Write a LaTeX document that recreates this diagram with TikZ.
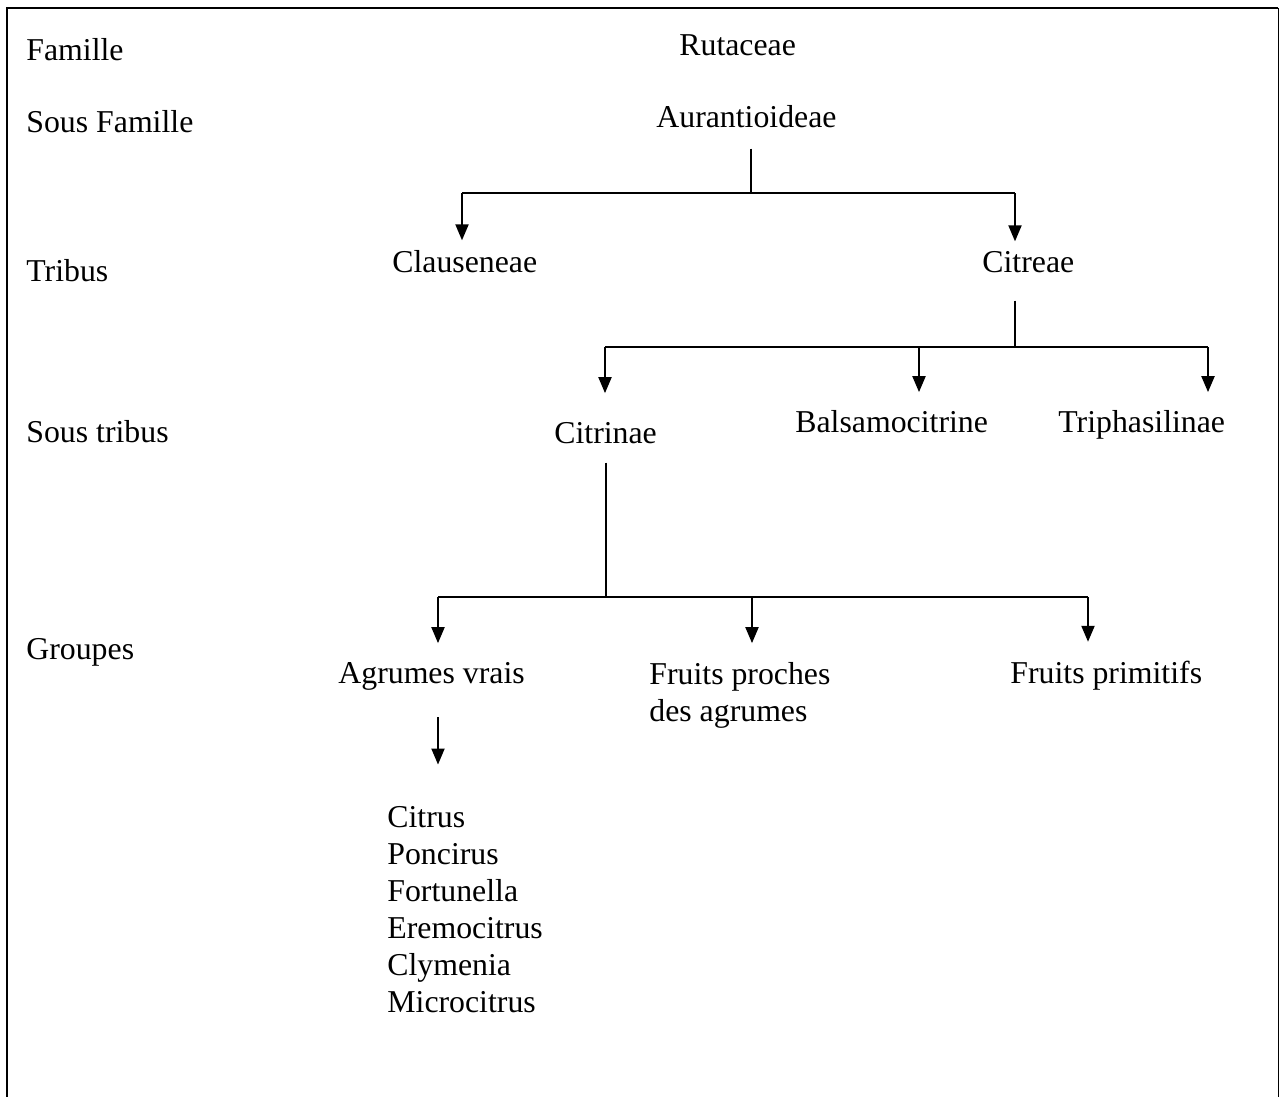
\documentclass[tikz,border=0pt]{standalone}
\usepackage{fontspec}
\setmainfont{Liberation Serif}
\usetikzlibrary{arrows.meta, positioning, calc}

\begin{document}
\begin{tikzpicture}[
  x=0.5pt, y=-0.5pt,
  taxon/.style={anchor=base west, inner sep=0pt, font=\fontsize{15.9}{18.5}\selectfont},
  rank/.style={taxon},
  stem/.style={line width=0.6pt},
  bar/.style={line width=1pt},
  down/.style={line width=1pt, -{Triangle[length=8pt, width=6.5pt]}}
]
\useasboundingbox (0,0) rectangle (1279,1097);
% cadre, ouvert en bas
\draw[line width=1pt] (7,1097) -- (7,8) -- (1278,8);
\draw[line width=0.5pt] (1278,8) -- (1278,1097);

% rangs
\node[rank] (famille) at (26,61) {Famille};
\node[rank] (sousfamille) at (26,133) {Sous Famille};
\node[rank] (tribus) at (26,281) {Tribus};
\node[rank] (soustribus) at (26,442) {Sous tribus};
\node[rank] (groupes) at (26,659) {Groupes};

% taxons (multi-lignes : base = derniere ligne)
\node[taxon] (ruta) at (679,56) {Rutaceae};
\node[taxon] (aur) at (656,127) {Aurantioideae};
\node[taxon] (clau) at (392,272) {Clauseneae};
\node[taxon] (citreae) at (982,272) {Citreae};
\node[taxon] (citrinae) at (554,443) {Citrinae};
\node[taxon] (balsa) at (795,432) {Balsamocitrine};
\node[taxon] (tripha) at (1058,432) {Triphasilinae};
\node[taxon] (agr) at (338,683) {Agrumes vrais};
\node[taxon, align=left] (proches) at (649,721) {Fruits proches\\des agrumes};
\node[taxon] (prim) at (1010,683) {Fruits primitifs};
\node[taxon, align=left] (genres) at (387,1012) {Citrus\\Poncirus\\Fortunella\\Eremocitrus\\Clymenia\\Microcitrus};

% points de branchement
\coordinate (fork1) at (751,193);
\coordinate (d1) at (462,193);
\coordinate (d2) at (1015,193);
\coordinate (fork2) at (1015,347);
\coordinate (d3) at (605,347);
\coordinate (d4) at (919,347);
\coordinate (d5) at (1208,347);
\coordinate (fork3) at (606,597);
\coordinate (d6) at (438,597);
\coordinate (d7) at (752,597);
\coordinate (d8) at (1088,597);

% Aurantioideae -> tribus
\draw[stem, shorten <=10.5pt] (aur.south -| fork1) -- (fork1);
\draw[bar] (d1) -- (d2);
\draw[down, shorten >=4.6pt] (d1) -- (d1 |- clau.north);
\draw[down, shorten >=4.6pt] (d2) -- (d2 |- citreae.north);

% Citreae -> sous tribus
\draw[stem, shorten <=14pt] (citreae.south -| fork2) -- (fork2);
\draw[bar] (d3) -- (d5);
\draw[down, shorten >=14.2pt] (d3) -- (d3 |- citrinae.north);
\draw[down, shorten >=8.7pt] (d4) -- (d4 |- balsa.north);
\draw[down, shorten >=8.7pt] (d5) -- (d5 |- tripha.north);

% Citrinae -> groupes
\draw[stem, shorten <=9.5pt] (citrinae.south -| fork3) -- (fork3);
\draw[bar] (d6) -- (d8);
\draw[down, shorten >=9.2pt] (d6) -- (d6 |- agr.north);
\draw[down, shorten >=9.2pt] (d7) -- (d7 |- proches.north);
\draw[down, shorten >=9.2pt] (d8) -- (d8 |- prim.north);

% Agrumes vrais -> genres
\draw[down, shorten <=13.5pt, shorten >=20.5pt] (d6 |- agr.south) -- (d6 |- genres.north);
\end{tikzpicture}
\end{document}
